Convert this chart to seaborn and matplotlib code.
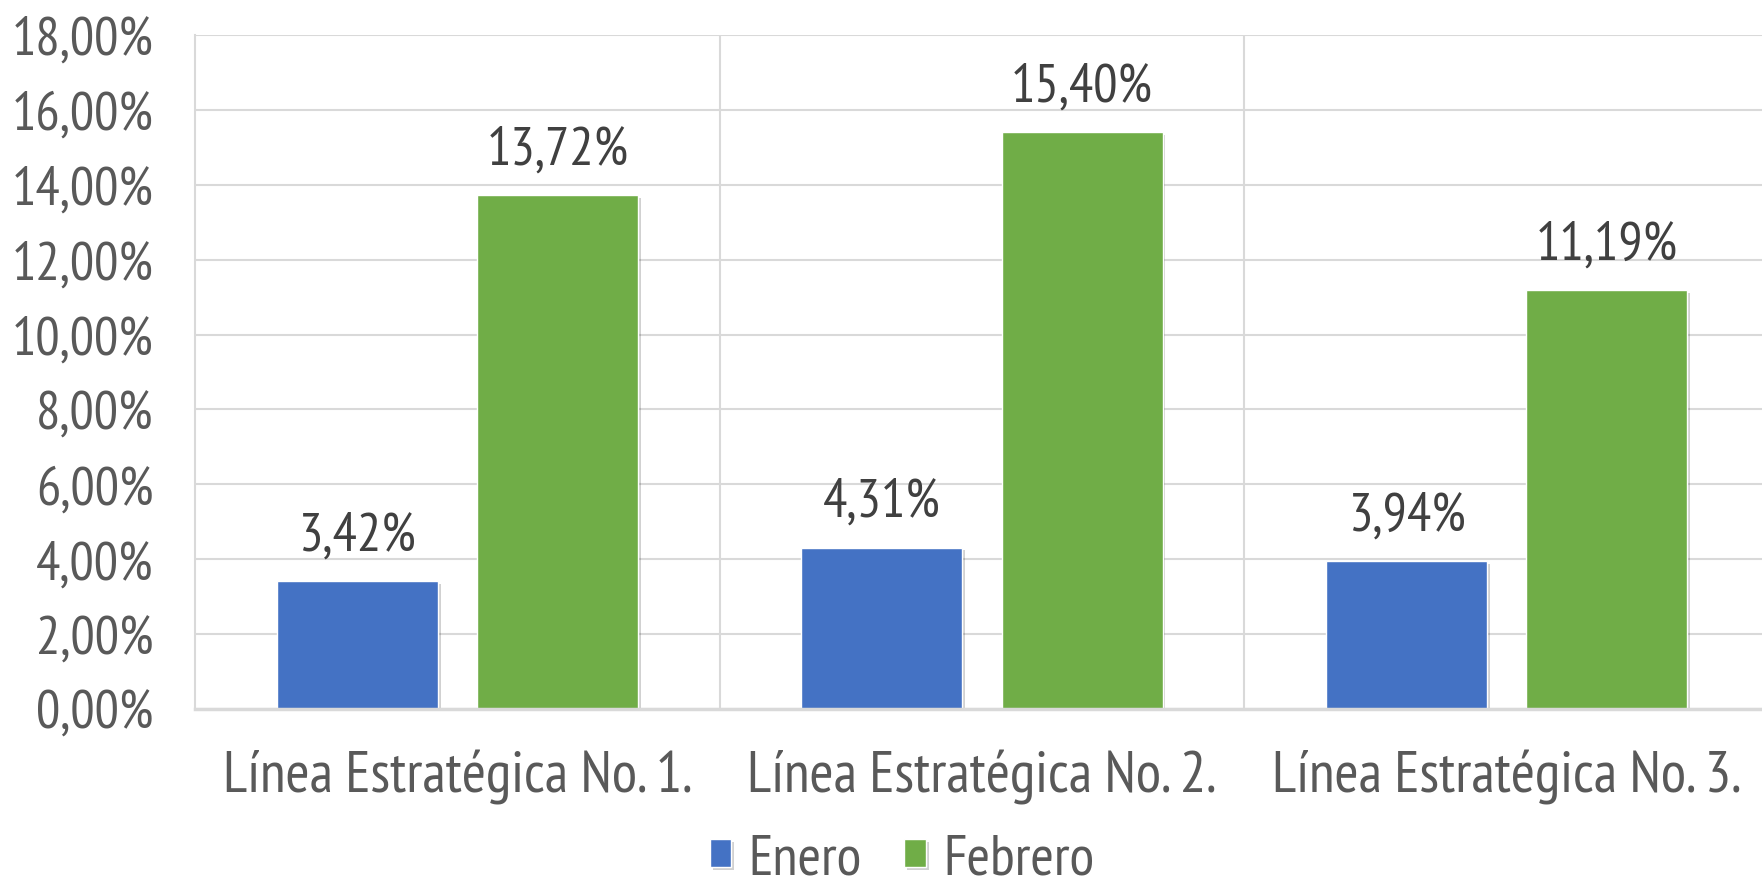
import matplotlib
matplotlib.use("Agg")
import matplotlib.pyplot as plt
import matplotlib.patheffects as pe
from matplotlib.ticker import FuncFormatter, MultipleLocator
import seaborn as sns
import pandas as pd

categories = ["Línea Estratégica No. 1.", "Línea Estratégica No. 2.", "Línea Estratégica No. 3."]
series_names = ["Enero", "Febrero"]
enero = [3.42, 4.31, 3.94]
febrero = [13.72, 15.40, 11.19]
colors = ["#4472C4", "#70AD47"]

df = pd.DataFrame({
    "cat": categories * 2,
    "mes": [series_names[0]] * 3 + [series_names[1]] * 3,
    "val": enero + febrero,
})

sns.set_theme(style="white")
FONT = ["PT Sans Narrow", "DejaVu Sans"]
plt.rcParams["font.family"] = FONT

W, H = 1762, 895
fig = plt.figure(figsize=(W / 100, H / 100), dpi=100)
ax = fig.add_axes([195 / W, (H - 710) / H, (1769 - 195) / W, 674 / H])

sns.barplot(data=df, x="cat", y="val", hue="mes", palette=colors, width=0.763, gap=0.195,
            saturation=1, ax=ax, legend=True, zorder=3)

for p in ax.patches:
    p.set_path_effects([pe.SimplePatchShadow(offset=(2, -2), shadow_rgbFace="#000000", alpha=0.18), pe.Normal()])

ax.set_ylim(0, 18)
ax.set_xlim(-0.5, 2.5)
ax.yaxis.set_major_locator(MultipleLocator(2))
ax.yaxis.set_major_formatter(FuncFormatter(lambda v, _: f"{v:.2f}%".replace(".", ",")))
ax.grid(axis="y", color="#D9D9D9", linewidth=1.5, zorder=0)
for xv in [0.5, 1.5]:
    ax.axvline(xv, color="#D9D9D9", linewidth=1.5, zorder=0)
for s in ["top", "right"]:
    ax.spines[s].set_visible(False)
ax.spines["left"].set_color("#D9D9D9")
ax.spines["left"].set_linewidth(1.5)
ax.spines["bottom"].set_color("#D9D9D9")
ax.spines["bottom"].set_linewidth(2.5)
ax.spines["bottom"].set_zorder(4)

ax.set_xlabel("")
ax.set_ylabel("")
ax.tick_params(axis="both", length=0, labelsize=39, colors="#595959")
ax.tick_params(axis="y", pad=30)
ax.tick_params(axis="x", pad=29, labelsize=42)

for cont in ax.containers:
    ax.bar_label(cont, labels=[f"{v:.2f}%".replace(".", ",") for v in cont.datavalues],
                 padding=15, fontsize=39, color="#404040")

handles, labels = ax.get_legend_handles_labels()
ax.legend_.remove()
fig.legend(handles, labels, loc="lower center", bbox_to_anchor=(902 / W, -0.024), ncol=2,
           frameon=False, fontsize=41, labelcolor="#595959", handlelength=0.38, handleheight=0.38,
           handletextpad=0.3, columnspacing=0.75, borderpad=0.05)

fig.savefig("out.png", dpi=100)
